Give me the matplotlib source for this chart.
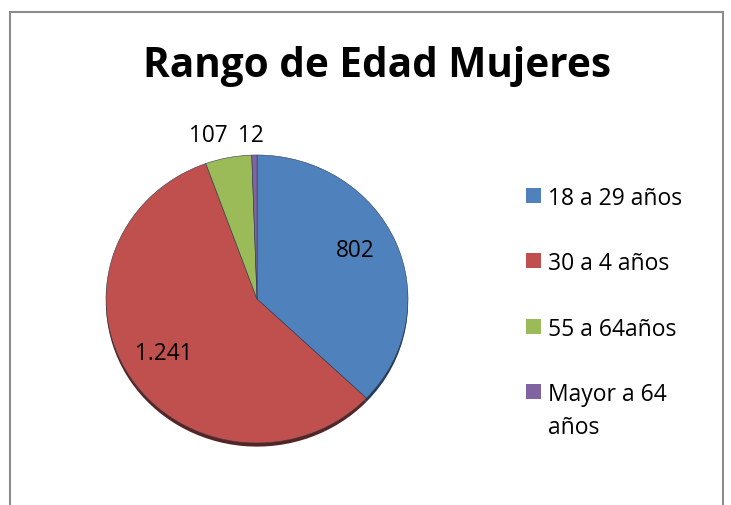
import matplotlib
matplotlib.use("Agg")
import matplotlib.pyplot as plt
from matplotlib.lines import Line2D
from matplotlib.patches import Rectangle
from matplotlib.colors import to_rgb
import numpy as np

categories = ["18 a 29 años", "30 a 4 años", "55 a 64años", "Mayor a 64\naños"]
values = [802, 1241, 107, 12]
value_labels = ["802", "1.241", "107", "12"]
colors = ["#4F81BD", "#C0504D", "#9BBB59", "#8064A2"]

plt.rcParams['font.family'] = ['Open Sans', 'DejaVu Sans']

W, H = 731, 506
fig = plt.figure(figsize=(W / 100, H / 100), dpi=100)

def fx(x): return x / W
def fy(y): return 1 - y / H

# frame
fc = "#8c8c8c"
fig.add_artist(Line2D([fx(10), fx(10)], [fy(13), 0], color=fc, lw=1.5))
fig.add_artist(Line2D([fx(10), fx(723)], [fy(13), fy(13)], color=fc, lw=1.5))
fig.add_artist(Line2D([fx(723), fx(723)], [fy(13), 0], color=fc, lw=1.5))

fig.text(fx(377), fy(77), "Rango de Edad Mujeres", ha="center", va="baseline",
         fontsize=29.2, fontweight="bold")

cx, cy, rx, ry = 257, 300, 151, 144
ax = fig.add_axes([fx(cx - rx), fy(cy + ry), 2 * rx / W, 2 * ry / H])
ax.axis("off")
# shadow
dark = [tuple(c * 0.45 for c in to_rgb(col)) for col in colors]
ax.pie(values, colors=dark, startangle=90, counterclock=False, center=(0, -0.025),
       wedgeprops=dict(linewidth=0))
wedges, _ = ax.pie(values, colors=colors, startangle=90, counterclock=False,
                   wedgeprops=dict(edgecolor="#2f3f55", linewidth=0.4))
ax.set_aspect("auto")
ax.set_xlim(-1, 1)
ax.set_ylim(-1, 1)
ax.axis("off")

label_r = [0.744, 0.715, 1.205, 1.16]
label_shift = [5.6, -3.2, 4.7, 1.0]
for w, lab, r, sh in zip(wedges, value_labels, label_r, label_shift):
    ang = np.deg2rad((w.theta1 + w.theta2) / 2 + sh)
    ax.text(r * np.cos(ang), r * np.sin(ang), lab, ha="center",
            va="center_baseline", fontsize=16.3, clip_on=False)

# legend
row_y0, row_dy, line_dy = 196, 65.5, 32
for i, (cat, col) in enumerate(zip(categories, colors)):
    y = row_y0 + i * row_dy
    fig.add_artist(Rectangle((fx(526), fy(y + 7.5)), 15 / W, 15 / H,
                             facecolor=col, edgecolor="none",
                             transform=fig.transFigure))
    for j, line in enumerate(cat.split("\n")):
        fig.text(fx(548), fy(y + j * line_dy), line, ha="left",
                 va="center_baseline", fontsize=16.5)

fig.savefig("out.png", dpi=100)
